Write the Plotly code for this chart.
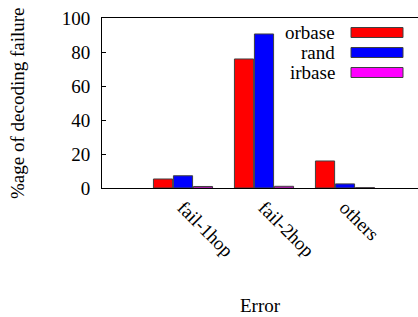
import plotly.graph_objects as go

categories = ["fail-1hop", "fail-2hop", "others"]
cat_pos = [1, 2, 3]
series_names = ["orbase", "rand", "irbase"]
orbase = [5.3, 75.9, 15.9]
rand = [7.2, 90.6, 2.4]
irbase = [0.9, 1.0, 0.2]
colors = ["#ff0000", "#0000ff", "#ff00ff"]
y_ticks = [0, 20, 40, 60, 80, 100]

W, H = 418, 317
ML, MT, MB = 102, 18, 129
plot_w = W - ML
plot_h = H - MT - MB

def px_x(x):
    return (x - ML) / plot_w

def px_y(y):
    return (MT + plot_h - y) / plot_h

FONT = "Liberation Serif, Times New Roman, serif"

fig = go.Figure()
for name, vals, col in zip(series_names, [orbase, rand, irbase], colors):
    fig.add_trace(go.Bar(
        x=cat_pos, y=vals, name=name,
        marker=dict(color=col, line=dict(color="#404040", width=1)),
        showlegend=False,
    ))

# custom gnuplot-style legend: text on the left, sample box on the right
row_y = [32.5, 52.5, 72.5]
for name, col, ry in zip(series_names, colors, row_y):
    fig.add_annotation(x=px_x(337), y=px_y(ry), xref="paper", yref="paper",
                       text=name, showarrow=False, xanchor="right", yanchor="middle",
                       font=dict(family=FONT, size=19, color="black"))
    fig.add_shape(type="rect", xref="paper", yref="paper",
                  x0=px_x(351), x1=px_x(403), y0=px_y(ry + 5), y1=px_y(ry - 5),
                  fillcolor=col, line=dict(color="#404040", width=1))

fig.add_annotation(x=px_x(260), y=px_y(305), xref="paper", yref="paper",
                   text="Error", showarrow=False, xanchor="center", yanchor="middle",
                   font=dict(family=FONT, size=19, color="black"))
fig.add_annotation(x=px_x(17), y=px_y(103), xref="paper", yref="paper",
                   text="%age of decoding failure", showarrow=False, textangle=-90,
                   xanchor="center", yanchor="middle",
                   font=dict(family=FONT, size=19, color="black"))

fig.update_layout(
    width=W, height=H,
    margin=dict(l=ML, r=0, t=MT, b=MB),
    paper_bgcolor="white", plot_bgcolor="white",
    barmode="group", bargap=0.26, bargroupgap=0.04,
    font=dict(family=FONT, size=19, color="black"),
    xaxis=dict(range=[0, plot_w / 81.0], tickmode="array", tickvals=cat_pos,
               ticktext=categories, tickangle=45, ticks="", showgrid=False,
               zeroline=False, showline=True, linecolor="black", linewidth=1,
               mirror=True, automargin=False),
    yaxis=dict(range=[0, 100], tickvals=y_ticks, ticks="inside", ticklen=4,
               tickcolor="black", showgrid=False, zeroline=False, showline=True,
               linecolor="black", linewidth=1, automargin=False,
               ticklabelstandoff=7),
)

fig.write_html("out.html", config={"displayModeBar": False},
               post_script="document.body.style.margin='0';document.body.style.overflow='hidden';")
